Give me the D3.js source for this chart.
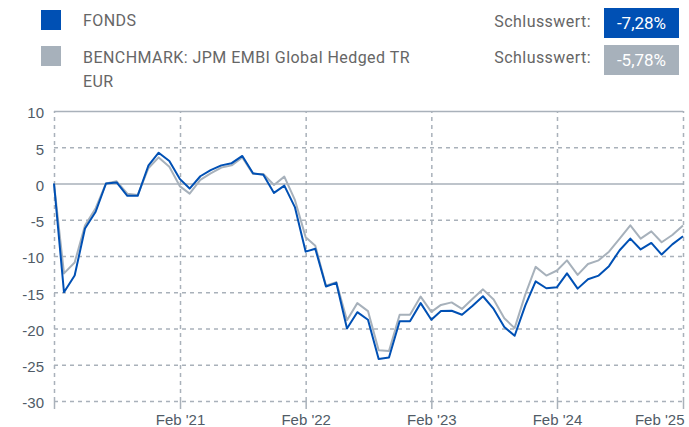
<!DOCTYPE html>
<html lang="de">
<head>
<meta charset="utf-8">
<title>Fonds vs Benchmark</title>
<script src="https://cdn.jsdelivr.net/npm/d3@7"></script>
<style>
  body { margin: 0; background: #fff; }
  svg { display: block; }
  .legend { font-family: Roboto, sans-serif; font-size: 16px; fill: #666; letter-spacing: 0.45px; }
  .tick-label { font-family: "Liberation Sans", Arial, sans-serif; font-size: 15px; fill: #505b66; }
</style>
</head>
<body>
<script>
// months (first of following month = month end value)
var months = [
  "2020-02","2020-03","2020-04","2020-05","2020-06","2020-07","2020-08","2020-09","2020-10","2020-11","2020-12","2021-01",
  "2021-02","2021-03","2021-04","2021-05","2021-06","2021-07","2021-08","2021-09","2021-10","2021-11","2021-12","2022-01",
  "2022-02","2022-03","2022-04","2022-05","2022-06","2022-07","2022-08","2022-09","2022-10","2022-11","2022-12","2023-01",
  "2023-02","2023-03","2023-04","2023-05","2023-06","2023-07","2023-08","2023-09","2023-10","2023-11","2023-12","2024-01",
  "2024-02","2024-03","2024-04","2024-05","2024-06","2024-07","2024-08","2024-09","2024-10","2024-11","2024-12","2025-01",
  "2025-02"
];

var fonds = [
  0, -15.0, -12.7, -6.2, -3.9, 0, 0.15, -1.7, -1.7, 2.45, 4.25, 3.1,
  0.6, -0.7, 1.0, 1.85, 2.5, 2.8, 3.8, 1.4, 1.2, -1.3, -0.3, -3.3,
  -9.4, -9.0, -14.2, -13.7, -20.0, -17.75, -18.8, -24.2, -24.0, -19.0, -19.0, -16.5,
  -18.8, -17.6, -17.55, -18.1, -16.85, -15.55, -17.3, -19.8, -21.0, -16.8, -13.5, -14.45,
  -14.3, -12.4, -14.5, -13.2, -12.7, -11.4, -9.2, -7.6, -9.1, -8.2, -9.8, -8.4,
  -7.28
];

var benchmark = [
  0, -12.4, -10.9, -5.8, -3.4, 0, 0.3, -1.4, -1.6, 2.1, 3.6, 2.3,
  -0.4, -1.4, 0.5, 1.4, 2.2, 2.5, 3.6, 1.3, 1.3, -0.2, 0.95, -2.3,
  -7.4, -8.6, -14.1, -13.6, -18.85, -16.5, -17.6, -23.0, -23.1, -18.1, -18.1, -15.6,
  -17.7, -16.75, -16.4, -17.3, -15.9, -14.6, -16.0, -18.6, -19.95, -15.3, -11.5, -12.7,
  -12.0, -10.6, -12.6, -11.1, -10.6, -9.4, -7.6, -5.77, -7.6, -6.6, -8.1, -7.1,
  -5.78
];

var yTicks = [10, 5, 0, -5, -10, -15, -20, -25, -30];
var xTicks = ["2020-02", "2021-02", "2022-02", "2023-02", "2024-02", "2025-02"];

var seriesNames = ["FONDS", "BENCHMARK: JPM EMBI Global Hedged TR", "EUR"];
var endValues = ["-7,28%", "-5,78%"];

var w = 689, h = 427;
var blue = "#0050b4", grey = "#a7b1bb", gridColor = "#a9b1ba";

var parse = d3.timeParse("%Y-%m");
var fmt = d3.timeFormat("%b '%y");
var dates = months.map(parse);

var svg = d3.select("body").append("svg")
  .attr("width", w)
  .attr("height", h);

var x = d3.scaleTime()
  .domain(d3.extent(dates))
  .range([54, 683]);

var y = d3.scaleLinear()
  .domain([-30, 10])
  .range([401, 111]);

// horizontal grid
var yAxis = d3.axisLeft(y)
  .tickValues(yTicks)
  .tickSize(-(x.range()[1] - x.range()[0]))
  .tickFormat(d => d);

var gy = svg.append("g")
  .attr("transform", "translate(" + x.range()[0] + ",0)")
  .call(yAxis);
gy.select(".domain").remove();
gy.selectAll(".tick line")
  .attr("stroke", gridColor)
  .attr("stroke-width", 1.5)
  .attr("stroke-dasharray", d => (d === 0 || d === 10) ? null : "4,4");
gy.selectAll(".tick text")
  .attr("class", "tick-label")
  .attr("x", -10)
  .attr("dy", "0.45em");

// vertical grid + labels
var xTickDates = xTicks.map(parse);
var xAxis = d3.axisBottom(x)
  .tickValues(xTickDates)
  .tickSize(-(y.range()[0] - y.range()[1]))
  .tickFormat(fmt);

var gx = svg.append("g")
  .attr("transform", "translate(0," + y.range()[0] + ")")
  .call(xAxis);
gx.select(".domain").remove();
gx.selectAll(".tick line")
  .attr("stroke", gridColor)
  .attr("stroke-width", 1.5)
  .attr("stroke-dasharray", "4,4");
gx.selectAll(".tick")
  .append("line")
  .attr("y1", 0)
  .attr("y2", 8)
  .attr("stroke", gridColor)
  .attr("stroke-width", 1.5);
gx.selectAll(".tick text")
  .attr("class", "tick-label")
  .attr("y", 10)
  .attr("dy", "0.9em")
  .attr("text-anchor", (d, i) => i === xTickDates.length - 1 ? "end" : "middle")
  .attr("dx", (d, i) => i === xTickDates.length - 1 ? 1 : 0)
  .style("display", (d, i) => i === 0 ? "none" : null);

// lines
var line = d3.line()
  .x((d, i) => x(dates[i]))
  .y(d => y(d));

svg.append("path")
  .datum(benchmark)
  .attr("d", line)
  .attr("fill", "none")
  .attr("stroke", grey)
  .attr("stroke-width", 2)
  .attr("stroke-linejoin", "round");

svg.append("path")
  .datum(fonds)
  .attr("d", line)
  .attr("fill", "none")
  .attr("stroke", blue)
  .attr("stroke-width", 2)
  .attr("stroke-linejoin", "round");

// legend
var lg = svg.append("g").attr("class", "legend");
lg.append("rect").attr("x", 41).attr("y", 10).attr("width", 20).attr("height", 20).attr("fill", blue);
lg.append("rect").attr("x", 41).attr("y", 46).attr("width", 20).attr("height", 20).attr("fill", grey);
lg.append("text").attr("x", 83).attr("y", 26).text(seriesNames[0]);
lg.append("text").attr("x", 83).attr("y", 62.5).text(seriesNames[1]);
lg.append("text").attr("x", 83).attr("y", 87).text(seriesNames[2]);

lg.append("text").attr("x", 591).attr("y", 27).attr("text-anchor", "end").text("Schlusswert:");
lg.append("text").attr("x", 591).attr("y", 63).attr("text-anchor", "end").text("Schlusswert:");

var boxColors = [blue, grey];
[8, 45].forEach(function(by, i) {
  lg.append("rect").attr("x", 604).attr("y", by).attr("width", 75).attr("height", 30).attr("fill", boxColors[i]);
  lg.append("text").attr("x", 641.5).attr("y", by + 21).attr("text-anchor", "middle")
    .style("fill", "#fff").style("font-size", "17px").style("letter-spacing", "0px").text(endValues[i]);
});
</script>
</body>
</html>
